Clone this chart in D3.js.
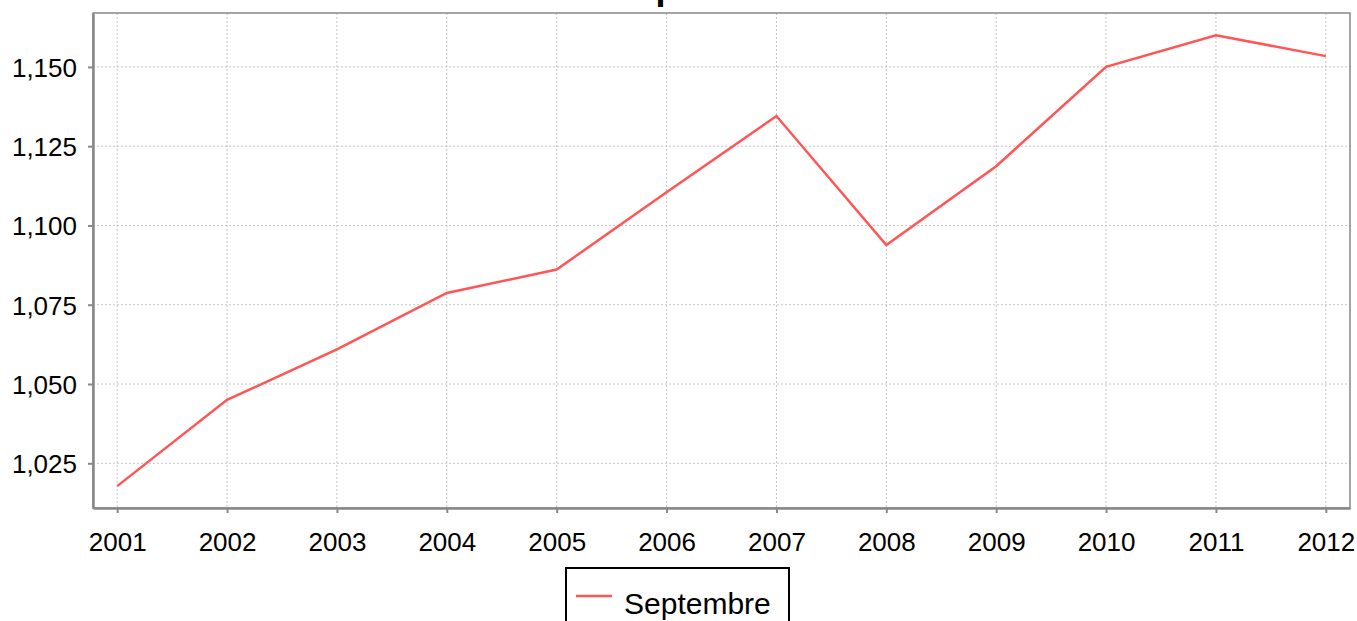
<!DOCTYPE html>
<html>
<head>
<meta charset="utf-8">
<script src="https://cdn.jsdelivr.net/npm/d3@7"></script>
<style>
  body { margin: 0; background: #fff; }
  svg { display: block; font-family: "Liberation Sans", Arial, sans-serif; }
</style>
</head>
<body>
<svg id="chart" width="1357" height="621"></svg>
<script>
const years = ['2001', '2002', '2003', '2004', '2005', '2006', '2007', '2008', '2009', '2010', '2011', '2012'];
const septembre = [1017.8, 1045.0, 1060.9, 1078.7, 1086.1, 1110.5, 1134.5, 1093.8, 1118.7, 1150.0, 1160.0, 1153.4];
const yTicks = [1025, 1050, 1075, 1100, 1125, 1150];
const seriesName = 'Septembre';
const titleText = 'Septembre';

const LINE_COLOR = '#ff5555';
const AXIS_COLOR = '#888888';
const GRID_COLOR = '#c4c4c4';

const plotLeft = 93, plotRight = 1350, plotTop = 13, plotBottom = 508;

const svg = d3.select('#chart');

const x = d3.scalePoint()
  .domain(years)
  .range([plotLeft, plotRight])
  .padding(0.22);

const y = d3.scaleLinear()
  .domain([1010.9, 1167])
  .range([plotBottom, plotTop]);

// Grid lines
const grid = svg.append('g');
grid.selectAll('.vgrid')
  .data(years)
  .enter()
  .append('line')
  .attr('x1', d => x(d)).attr('x2', d => x(d))
  .attr('y1', plotTop).attr('y2', plotBottom)
  .attr('stroke', GRID_COLOR)
  .attr('stroke-width', 1)
  .attr('stroke-dasharray', '2,2');
grid.selectAll('.hgrid')
  .data(yTicks)
  .enter()
  .append('line')
  .attr('x1', plotLeft).attr('x2', plotRight)
  .attr('y1', d => y(d)).attr('y2', d => y(d))
  .attr('stroke', GRID_COLOR)
  .attr('stroke-width', 1)
  .attr('stroke-dasharray', '2,2');

// Plot outline (top / right)
svg.append('rect')
  .attr('x', plotLeft).attr('y', plotTop)
  .attr('width', plotRight - plotLeft).attr('height', plotBottom - plotTop)
  .attr('fill', 'none')
  .attr('stroke', AXIS_COLOR)
  .attr('stroke-width', 1.5);

// Axes
const fmt = d3.format(',');
const yAxis = svg.append('g')
  .attr('transform', `translate(${plotLeft},0)`)
  .call(d3.axisLeft(y).tickValues(yTicks).tickFormat(fmt)
    .tickSizeInner(5).tickSizeOuter(0).tickPadding(11));
const xAxis = svg.append('g')
  .attr('transform', `translate(0,${plotBottom})`)
  .call(d3.axisBottom(x).tickSizeInner(5).tickSizeOuter(0).tickPadding(20));

[yAxis, xAxis].forEach(g => {
  g.select('.domain').attr('stroke', AXIS_COLOR).attr('stroke-width', 2.5);
  g.selectAll('.tick line').attr('stroke', AXIS_COLOR).attr('stroke-width', 2);
  g.selectAll('.tick text')
    .attr('fill', '#000')
    .style('font-size', '26px')
    .style('font-family', '"Liberation Sans", Arial, sans-serif');
});
yAxis.selectAll('.tick text').attr('dy', '0.36em');

// Series line
const line = d3.line()
  .x((d, i) => x(years[i]))
  .y(d => y(d));

svg.append('path')
  .datum(septembre)
  .attr('d', line)
  .attr('fill', 'none')
  .attr('stroke', LINE_COLOR)
  .attr('stroke-width', 2.5)
  .attr('stroke-linejoin', 'miter');

// Title (mostly cut off at the top of the frame)
const title = svg.append('text')
  .attr('y', -1.5)
  .attr('x', 0)
  .attr('font-size', 36)
  .attr('font-weight', 'bold')
  .attr('fill', '#000')
  .text(titleText);
const pStart = title.node().getStartPositionOfChar(2).x;
title.attr('x', 655.5 - pStart);

// Legend
const legend = svg.append('g');
legend.append('rect')
  .attr('x', 566).attr('y', 568)
  .attr('width', 223).attr('height', 70)
  .attr('fill', '#fff')
  .attr('stroke', '#000')
  .attr('stroke-width', 2);
legend.append('line')
  .attr('x1', 576).attr('x2', 612)
  .attr('y1', 596).attr('y2', 596)
  .attr('stroke', LINE_COLOR)
  .attr('stroke-width', 2.5);
legend.append('text')
  .attr('x', 624).attr('y', 614)
  .attr('font-size', 30)
  .attr('fill', '#000')
  .text(seriesName);
</script>
</body>
</html>
